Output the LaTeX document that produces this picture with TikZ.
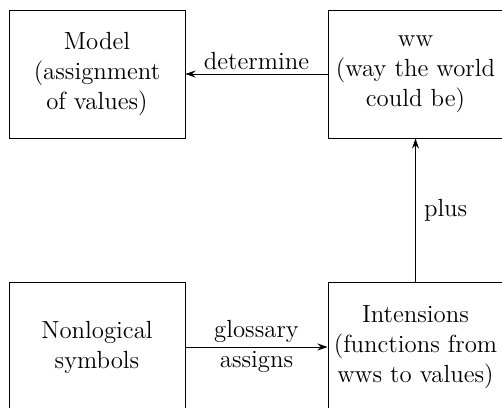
\documentclass[tikz,border=0pt]{standalone}
\usetikzlibrary{arrows.meta}
\begin{document}
\begin{tikzpicture}[x=0.5pt,y=-0.5pt,
  box/.style={draw,line width=0.5pt,inner sep=0pt,align=center,
    font=\fontsize{12.4}{15}\selectfont},
  link/.style={draw,line width=0.5pt,-{Stealth[length=5pt,width=3.5pt]}},
  lbl/.style={font=\fontsize{12.4}{15}\selectfont,inner sep=2pt}]
\useasboundingbox (0,0) rectangle (502,407);
\clip (0,0) rectangle (502,407);
% the four boxes
\node[box,minimum width=88pt,minimum height=64pt] (model) at (97,74)
  {Model\\(assignment\\of values)};
\node[box,minimum width=87.5pt,minimum height=64pt] (ww) at (415.5,74)
  {ww\\(way the world\\could be)};
\node[box,minimum width=88pt,minimum height=65pt] (nonlog) at (97,347)
  {Nonlogical\\symbols};
\node[box,minimum width=87.5pt,minimum height=65pt] (int) at (415.5,347)
  {Intensions\\(functions from\\wws to values)};
% connectors
\draw[link] (ww.west) -- node[lbl,above] {determine} (model.east);
\draw[link] (int.north) -- node[lbl,right,xshift=2pt] {plus} (ww.south);
\draw[link] (nonlog.east) -- node[lbl,above] {glossary} node[lbl,below] {assigns} (int.west);
\end{tikzpicture}
\end{document}
